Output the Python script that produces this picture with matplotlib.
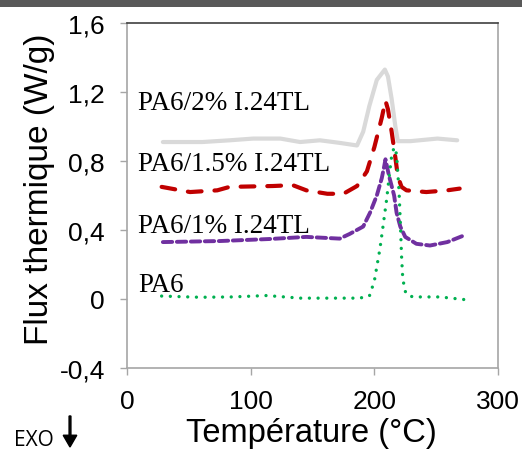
import matplotlib
matplotlib.use("Agg")
import matplotlib.pyplot as plt
from matplotlib.patches import Rectangle, FancyArrow

# ---- data ----
t_pa6 = [28, 59, 85, 113, 140, 165, 188, 196, 200, 204.5, 207, 210, 212, 214, 216,
         218, 219, 220, 221, 222, 223, 225.5, 231, 253, 275]
y_pa6 = [0.017, 0.01, 0.012, 0.02, 0.005, 0.005, 0.005, 0.017, 0.104, 0.29, 0.42, 0.58,
         0.71, 0.83, 0.88, 0.84, 0.73, 0.62, 0.45, 0.25, 0.116, 0.03, 0.012, 0.012, -0.005]

t_1 = [29, 75, 116, 145, 172, 180, 191, 196.5, 202, 206, 208, 209, 212, 216, 218, 221,
       225, 234, 245, 259, 273]
y_1 = [0.33, 0.336, 0.348, 0.36, 0.35, 0.377, 0.42, 0.50, 0.60, 0.70, 0.77, 0.81, 0.71,
       0.60, 0.50, 0.42, 0.36, 0.32, 0.31, 0.33, 0.37]

t_15 = [28, 51, 73, 83, 118, 134, 145, 162, 175, 186, 194, 200, 206, 209, 211, 214, 217,
        219, 222, 226, 242, 259, 269]
y_15 = [0.65, 0.62, 0.63, 0.65, 0.655, 0.66, 0.63, 0.61, 0.61, 0.655, 0.74, 0.88, 1.05,
        1.15, 1.10, 0.97, 0.82, 0.71, 0.65, 0.63, 0.62, 0.63, 0.64]

t_2 = [29, 61, 83, 102, 124, 140, 156, 172, 186, 191, 196, 202, 208.5, 211, 214, 217,
       219, 229, 251, 267]
y_2 = [0.91, 0.91, 0.92, 0.93, 0.93, 0.91, 0.92, 0.905, 0.89, 0.97, 1.12, 1.27, 1.33,
       1.29, 1.16, 1.00, 0.915, 0.915, 0.93, 0.92]

labels = ["PA6/2% I.24TL", "PA6/1.5% I.24TL", "PA6/1% I.24TL", "PA6"]
label_y = [1.10, 0.75, 0.39, 0.046]
label_x = 9

yticks = [-0.4, 0, 0.4, 0.8, 1.2, 1.6]
ytick_labels = ["-0,4", "0", "0,4", "0,8", "1,2", "1,6"]
xticks = [0, 100, 200, 300]
xtick_labels = ["0", "100", "200", "300"]

W, H = 522, 452

# ---- figure ----
fig = plt.figure(figsize=(W / 100, H / 100), dpi=100)
fig.patches.append(Rectangle((0, 1 - 8 / H), 1, 8 / H, transform=fig.transFigure,
                             facecolor="#595959", edgecolor="none", zorder=0))
ax = fig.add_axes([127 / W, 1 - 369 / H, (498 - 127) / W, (369 - 24) / H])

ax.plot(t_2, y_2, color="#d9d9d9", lw=3.0, solid_capstyle="round", solid_joinstyle="round")
ax.plot(t_15, y_15, color="#c00000", lw=3.0, dashes=(3.3, 3.1), dash_capstyle="round")
ax.plot(t_1, y_1, color="#7030a0", lw=2.8, dashes=(2.4, 1.2), dash_capstyle="round")
ax.plot(t_pa6, y_pa6, color="#00b050", lw=2.4, dashes=(0.01, 2.6), dash_capstyle="round")

for lab, ly in zip(labels, label_y):
    ax.text(label_x, ly, lab, family="Liberation Serif", fontsize=19.5, va="baseline",
            ha="left", color="black")

ax.set_xlim(0, 300)
ax.set_ylim(-0.4, 1.6)
ax.set_xticks(xticks)
ax.set_xticklabels(xtick_labels, family="Liberation Sans", fontsize=19)
ax.set_yticks(yticks)
ax.set_yticklabels(ytick_labels, family="Liberation Sans", fontsize=19)
ax.tick_params(axis="both", direction="out", length=5, width=1, color="#a6a6a6")
ax.tick_params(axis="y", pad=11)
ax.tick_params(axis="x", pad=10)

for s in ["left", "bottom", "right"]:
    ax.spines[s].set_color("#a6a6a6")
    ax.spines[s].set_linewidth(1.2)
ax.spines["top"].set_color("#404040")
ax.spines["top"].set_linewidth(1.2)

fig.text(311 / W, 1 - 434 / H, "Température (°C)", family="Liberation Sans", fontsize=23.5,
         ha="center", va="center")
fig.text(40 / W, 1 - 189 / H, "Flux thermique (W/g)", family="Liberation Sans", fontsize=24,
         ha="center", va="center", rotation=90)

fig.text(14 / W, 1 - 446 / H, "EXO", family="Open Sans", fontsize=15, va="baseline")
fig.patches.append(FancyArrow(70 / W, 1 - 417 / H, 0, -31 / H,
                   transform=fig.transFigure, width=0.0035, head_width=0.026,
                   head_length=0.026, length_includes_head=True, color="black"))

fig.savefig("out.png", dpi=100)
